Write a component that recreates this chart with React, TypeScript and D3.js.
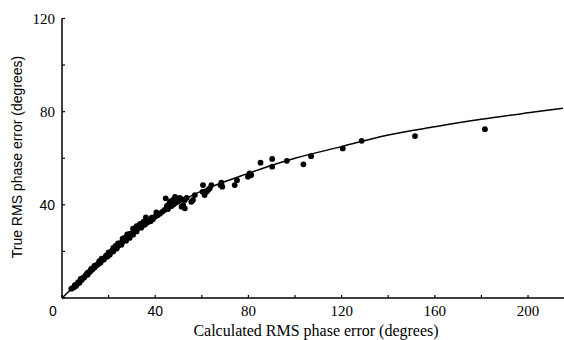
import React from "react";
import * as d3 from "d3";

const xTicks = [0, 20, 40, 60, 80, 100, 120, 140, 160, 180, 200];
const xTickLabels = ["0", "40", "80", "120", "160", "200"];
const yTicks = [0, 20, 40, 60, 80, 100, 120];
const yTickLabels = ["40", "80", "120"];

const curveX = [0, 5, 10, 20, 30, 40, 50, 60, 70, 80, 90, 100, 120, 140, 160, 180, 200, 215];
const curveY = [0, 4.9, 9.8, 19, 27.5, 35, 41, 46, 50, 53.5, 57, 60, 65, 70, 73.5, 76.7, 79.5, 81.5];

const pointX = [
  4, 5, 5.5, 6, 6.5, 7, 7.5, 8, 8.5, 9, 9.5, 10, 10.5, 11, 11.5, 12, 12.5, 13, 13.5, 14,
  14.5, 15, 15.5, 16, 16.5, 17, 17.5, 18, 18.5, 19, 19.5, 20, 20.5, 21, 21.5, 22, 22.5, 23, 23.5, 24,
  24.5, 25, 25.5, 26, 26.5, 27, 27.5, 28, 28.5, 29, 29.5, 30, 30.5, 31, 31.5, 32, 32.5, 33, 33.5, 34,
  34.5, 35, 35.5, 36, 37, 38, 38.5, 39, 40, 40.5, 41, 42, 43, 44, 45, 45.5, 46, 46.5, 47, 47.5,
  48, 49, 50, 50.5, 51, 52, 52.7, 53.5, 55.5, 56.2, 57, 51.3, 52, 52.7, 22, 26, 29, 33, 36.5,
  8, 11, 14, 17, 20, 23, 27, 31, 35, 12.5, 16, 19, 24, 28, 32, 44.5, 48.5, 30.5, 36,
  60.5, 60.3, 61.2, 62, 62.7, 63.4, 64.1, 68, 68.4, 68.8, 74.1, 75.1, 79.8, 80.5, 81.2,
  85.2, 90.2, 90.2, 96.5, 103.6, 106.9, 120.5, 128.6, 151.5, 181.5
];
const pointY = [
  4, 4.5, 5.5, 5.2, 6, 6.8, 6.5, 7.5, 7.8, 8.6, 8.8, 9.5, 10.2, 10, 11, 11.3, 12, 12.2, 13, 13.1,
  13.8, 14.2, 14.6, 15.3, 15.1, 16.2, 16.8, 16.5, 17.4, 18.2, 17.8, 19, 18.6, 19.7, 20.3, 20, 21, 21.6, 21.2, 22.3,
  22.8, 23.5, 22.9, 24.2, 24.8, 25.5, 24.6, 26, 26.8, 25.8, 27, 27.8, 27.2, 28.5, 29, 28.6, 29.8, 30.5, 31.8, 30.2,
  31, 32.8, 31.5, 32, 32.6, 33, 34.5, 33.8, 35, 36.8, 35.5, 36.2, 37, 37.8, 39.5, 38.2, 40.5, 41.5, 39.5, 42,
  40.2, 41, 41.5, 43, 42.5, 42.2, 42.1, 43, 41.3, 42.1, 44.2, 39.2, 39.9, 38.5, 21.5, 25.5, 27.5, 31, 33.5,
  8.2, 10.9, 13.9, 16.9, 19.6, 22.4, 25.9, 29.4, 32.3, 12.5, 15.8, 18.2, 23.4, 27.3, 30.9, 42.8, 43.4, 29.8, 34.6,
  48.5, 45.6, 44.2, 45.6, 46.4, 47.1, 48.5, 48.5, 49.5, 47.8, 48.5, 50.6, 52.1, 53.5, 52.8,
  58.1, 59.7, 56.4, 58.9, 57.4, 60.9, 64.2, 67.5, 69.5, 72.5
];

const W = 564;
const H = 340;
const serif = "'Liberation Serif', 'Times New Roman', serif";
const sans = "'Liberation Sans', Arial, sans-serif";

export default function App() {
  const x = d3.scaleLinear().domain([0, 215]).range([62, 563]);
  const y = d3.scaleLinear().domain([0, 120]).range([298, 18.5]);
  const line = d3
    .line<number>()
    .x((d, i) => x(curveX[i]))
    .y((d) => y(d))
    .curve(d3.curveMonotoneX);
  const curvePath = line(curveY) || "";

  return (
    <svg
      width={W}
      height={H}
      style={{ position: "absolute", left: 0, top: 0, background: "#fff" }}
    >
      <rect x={0} y={0} width={W} height={H} fill="#fff" />
      <line x1={x(0)} x2={W} y1={y(0)} y2={y(0)} stroke="#000" strokeWidth={1.5} />
      <line x1={x(0)} x2={x(0)} y1={y(0)} y2={y(120)} stroke="#000" strokeWidth={1.5} />
      {xTicks.map((t) => (
        <line key={"xt" + t} x1={x(t)} x2={x(t)} y1={y(0)} y2={y(0) - 3} stroke="#000" strokeWidth={1.2} />
      ))}
      {yTicks.map((t) => (
        <line key={"yt" + t} x1={x(0)} x2={x(0) + 3} y1={y(t)} y2={y(t)} stroke="#000" strokeWidth={1.2} />
      ))}
      {xTickLabels.map((l) => {
        const v = +l;
        const isSans = v <= 40;
        return (
          <text
            key={"xl" + l}
            x={v === 0 ? x(0) - 9 : x(v)}
            y={316}
            textAnchor="middle"
            fontFamily={isSans ? sans : serif}
            fontSize={isSans ? 14 : 15}
            fill="#000"
          >
            {l}
          </text>
        );
      })}
      {yTickLabels.map((l) => {
        const v = +l;
        const isSans = v <= 40;
        return (
          <text
            key={"yl" + l}
            x={55}
            y={y(v)}
            dy="0.35em"
            textAnchor="end"
            fontFamily={isSans ? sans : serif}
            fontSize={isSans ? 14 : 15}
            fill="#000"
          >
            {l}
          </text>
        );
      })}
      <path d={curvePath} fill="none" stroke="#000" strokeWidth={1.5} />
      {pointX.map((px, i) => (
        <circle key={"p" + i} cx={x(px)} cy={y(pointY[i])} r={2.9} fill="#000" />
      ))}
      <text x={316} y={336} textAnchor="middle" fontFamily={serif} fontSize={16} fill="#000">
        Calculated RMS phase error (degrees)
      </text>
      <text
        transform={`translate(22,157) rotate(-90)`}
        textAnchor="middle"
        fontFamily={sans}
        fontSize={14}
        fill="#000"
      >
        True RMS phase error (degrees)
      </text>
    </svg>
  );
}
